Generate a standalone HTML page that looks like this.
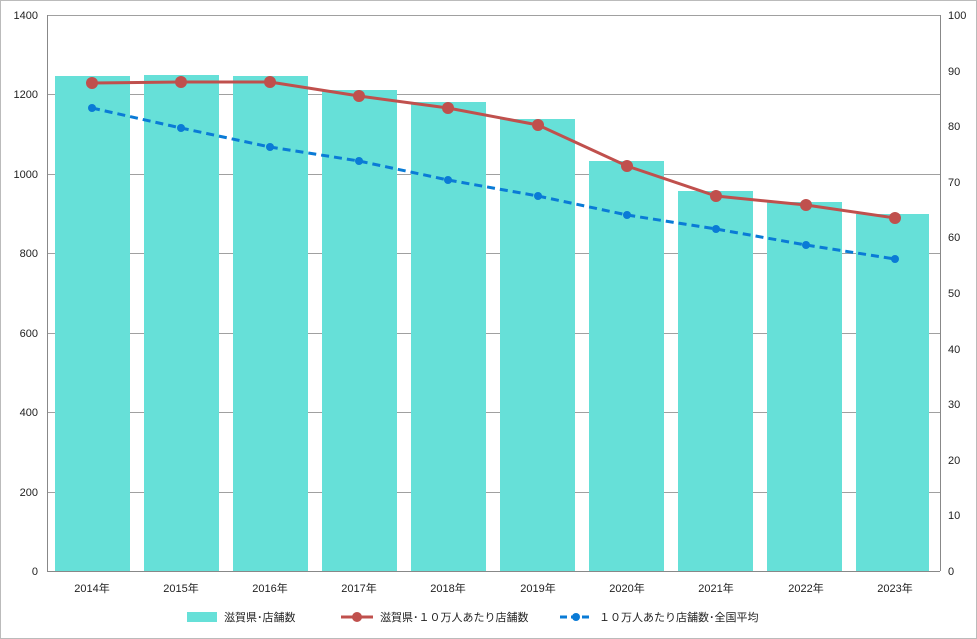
<!DOCTYPE html>
<html><head><meta charset="utf-8"><style>
html,body{margin:0;padding:0;background:#fff}
svg{display:block;font-family:"Liberation Sans","Noto Sans CJK JP",sans-serif}
</style></head><body>
<svg width="977" height="639" viewBox="0 0 977 639">
<rect x="0.5" y="0.5" width="976" height="638" fill="#fff" stroke="#bbb"/>
<g stroke="#a0a0a0" stroke-width="1">
<line x1="47" y1="15.5" x2="940" y2="15.5"/>
<line x1="47" y1="94.5" x2="940" y2="94.5"/>
<line x1="47" y1="174.5" x2="940" y2="174.5"/>
<line x1="47" y1="253.5" x2="940" y2="253.5"/>
<line x1="47" y1="333.5" x2="940" y2="333.5"/>
<line x1="47" y1="412.5" x2="940" y2="412.5"/>
<line x1="47" y1="492.5" x2="940" y2="492.5"/>
</g>
<g fill="#66e0d8">
<rect x="55" y="76" width="75" height="495"/>
<rect x="144" y="75" width="75" height="496"/>
<rect x="233" y="76" width="75" height="495"/>
<rect x="322" y="90" width="75" height="481"/>
<rect x="411" y="102" width="75" height="469"/>
<rect x="500" y="119" width="75" height="452"/>
<rect x="589" y="161" width="75" height="410"/>
<rect x="678" y="191" width="75" height="380"/>
<rect x="767" y="202" width="75" height="369"/>
<rect x="856" y="214" width="73" height="357"/>
</g>
<g stroke="#888" stroke-width="1">
<line x1="47.5" y1="15" x2="47.5" y2="571"/>
<line x1="940.5" y1="15" x2="940.5" y2="571"/>
<line x1="47" y1="571.5" x2="940" y2="571.5"/>
</g>
<polyline fill="none" stroke="#0a7bd6" stroke-width="3" stroke-dasharray="8,5" points="92,108 181,128 270,147 359,161 448,180 538,196 627,215 716,229 806,245 895,259"/>
<g fill="#0a7bd6">
<circle cx="92" cy="108" r="4"/><circle cx="181" cy="128" r="4"/><circle cx="270" cy="147" r="4"/><circle cx="359" cy="161" r="4"/><circle cx="448" cy="180" r="4"/><circle cx="538" cy="196" r="4"/><circle cx="627" cy="215" r="4"/><circle cx="716" cy="229" r="4"/><circle cx="806" cy="245" r="4"/><circle cx="895" cy="259" r="4"/>
</g>
<polyline fill="none" stroke="#c0504d" stroke-width="3" points="92,83 181,82 270,82 359,96 448,108 538,125 627,166 716,196 806,205 895,218"/>
<g fill="#c0504d">
<circle cx="92" cy="83" r="6"/><circle cx="181" cy="82" r="6"/><circle cx="270" cy="82" r="6"/><circle cx="359" cy="96" r="6"/><circle cx="448" cy="108" r="6"/><circle cx="538" cy="125" r="6"/><circle cx="627" cy="166" r="6"/><circle cx="716" cy="196" r="6"/><circle cx="806" cy="205" r="6"/><circle cx="895" cy="218" r="6"/>
</g>
<g font-size="11" fill="#222" text-anchor="end">
<text x="38" y="19">1400</text><text x="38" y="98">1200</text><text x="38" y="178">1000</text><text x="38" y="257">800</text><text x="38" y="337">600</text><text x="38" y="416">400</text><text x="38" y="496">200</text><text x="38" y="575">0</text>
</g>
<g font-size="11" fill="#222" text-anchor="start">
<text x="948" y="19">100</text><text x="948" y="75">90</text><text x="948" y="130">80</text><text x="948" y="186">70</text><text x="948" y="241">60</text><text x="948" y="297">50</text><text x="948" y="353">40</text><text x="948" y="408">30</text><text x="948" y="464">20</text><text x="948" y="519">10</text><text x="948" y="575">0</text>
</g>
<g font-size="11" fill="#222" text-anchor="middle">
<text x="92" y="592">2014年</text><text x="181" y="592">2015年</text><text x="270" y="592">2016年</text><text x="359" y="592">2017年</text><text x="448" y="592">2018年</text><text x="538" y="592">2019年</text><text x="627" y="592">2020年</text><text x="716" y="592">2021年</text><text x="806" y="592">2022年</text><text x="895" y="592">2023年</text>
</g>
<rect x="187" y="612" width="30" height="10" fill="#66e0d8"/>
<text x="224" y="621" font-size="11" fill="#222">滋賀県･店舗数</text>
<line x1="341" y1="617" x2="373" y2="617" stroke="#c0504d" stroke-width="3"/>
<circle cx="357" cy="617" r="5" fill="#c0504d"/>
<text x="380" y="621" font-size="11" fill="#222">滋賀県･１０万人あたり店舗数</text>
<line x1="560" y1="617" x2="592" y2="617" stroke="#0a7bd6" stroke-width="3" stroke-dasharray="7,4"/>
<circle cx="576" cy="617" r="4" fill="#0a7bd6"/>
<text x="599" y="621" font-size="11" fill="#222">１０万人あたり店舗数･全国平均</text>
</svg>
</body></html>
